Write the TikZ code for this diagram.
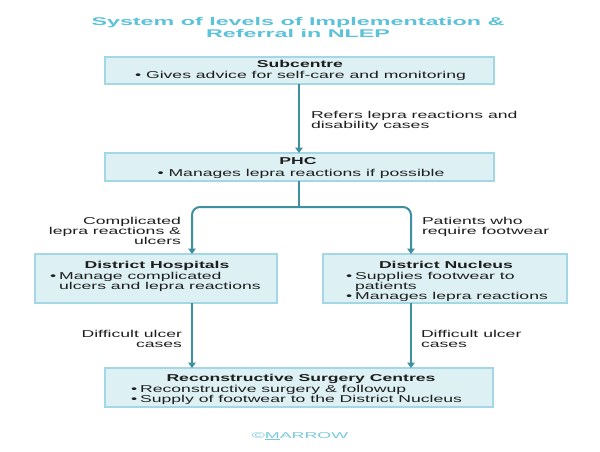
\documentclass[tikz,border=0pt]{standalone}
\usepackage{fontspec}
\setmainfont{Liberation Sans}[FakeStretch=1.76]
\newfontfamily\titlefont{Liberation Sans}[FakeStretch=2.08]
\newfontfamily\footfont{Liberation Sans}[FakeStretch=2.1]
\usetikzlibrary{arrows.meta}
\definecolor{titlecol}{HTML}{5BC2DA}
\definecolor{boxfill}{HTML}{DDF1F5}
\definecolor{boxline}{HTML}{A3D7E3}
\definecolor{arrcol}{HTML}{3E8FA0}
\definecolor{txtcol}{HTML}{1E1E1E}
\definecolor{footcol}{HTML}{78C9DD}
\begin{document}
\begin{tikzpicture}[x=1pt,y=-1pt,
  boxnode/.style={draw=boxline,line width=1.1pt,fill=boxfill,inner sep=0pt,outer sep=0pt,rectangle},
  txtnode/.style={inner sep=0pt,outer sep=0pt,text=txtcol,font=\fontsize{10}{10}\selectfont},
  headnode/.style={txtnode,font=\fontsize{10}{10}\selectfont\bfseries},
  conn/.style={draw=arrcol,line width=2pt},
  arr/.style={conn,-{Triangle[length=5.5pt,width=7.5pt]}}]
\fill[white] (0,0) rectangle (600,451);
\useasboundingbox (0,0) rectangle (600,451);

% title
\node[anchor=base,inner sep=0pt,text=titlecol,font=\titlefont\fontsize{11.2}{12}\selectfont\bfseries] (title) at (298,25)
  {\begin{tabular}[t]{@{}c@{}}System of levels of Implementation \&\\Referral in NLEP\end{tabular}};

% boxes
\node[boxnode,minimum width=389pt,minimum height=27pt] (sc) at (299.5,70.5) {};
\node[boxnode,minimum width=389pt,minimum height=28pt] (phc) at (299.5,167) {};
\node[boxnode,minimum width=242pt,minimum height=49pt] (dh) at (156,278.5) {};
\node[boxnode,minimum width=244pt,minimum height=49pt] (dn) at (445,278.5) {};
\node[boxnode,minimum width=388pt,minimum height=39pt] (rsc) at (299,387.5) {};

% box texts
\node[headnode,anchor=base] (sc-h) at (300,67.5) {Subcentre};
\node[txtnode,anchor=base] (sc-b) at (300.5,78.5) {• Gives advice for self-care and monitoring};
\node[headnode,anchor=base] (phc-h) at (298,164.7) {PHC};
\node[txtnode,anchor=base] (phc-b) at (301,176) {• Manages lepra reactions if possible};

\node[headnode,anchor=base] (dh-h) at (157,268) {District Hospitals};
\node[txtnode,anchor=base west] (dh-b) at (50,279)
  {\begin{tabular}[t]{@{}l@{\hspace{3pt}}l@{}}•&Manage complicated\\&ulcers and lepra reactions\end{tabular}};
\node[headnode,anchor=base] (dn-h) at (446,268) {District Nucleus};
\node[txtnode,anchor=base west] (dn-b) at (346,279)
  {\begin{tabular}[t]{@{}l@{\hspace{3pt}}l@{}}•&Supplies footwear to\\&patients\\•&Manages lepra reactions\end{tabular}};

\node[headnode,anchor=base] (rsc-h) at (301,381.5) {Reconstructive Surgery Centres};
\node[txtnode,anchor=base west] (rsc-b) at (131,392.5)
  {\begin{tabular}[t]{@{}l@{\hspace{3pt}}l@{}}•&Reconstructive surgery \& followup\\•&Supply of footwear to the District Nucleus\end{tabular}};

% connectors
\coordinate (xm) at (299,0);
\coordinate (jn) at (299,207);
\coordinate (xl) at (192,0);
\coordinate (xr) at (411,0);
\draw[arr] (sc.south -| xm) -- (phc.north -| xm);
\draw[conn] (phc.south -| xm) -- (jn);
\draw[arr,rounded corners=8pt] (jn) -| (dh.north -| xl);
\draw[arr,rounded corners=8pt] (jn) -| (dn.north -| xr);
\draw[arr] (dh.south -| xl) -- (rsc.north -| xl);
\draw[arr] (dn.south -| xr) -- (rsc.north -| xr);

% labels
\node[txtnode,anchor=base west] (l1) at (311,118.5)
  {\begin{tabular}[t]{@{}l@{}}Refers lepra reactions and\\disability cases\end{tabular}};
\node[txtnode,anchor=base east] (l2) at (181,224.5)
  {\begin{tabular}[t]{@{}r@{}}Complicated\\lepra reactions \&\\ulcers\end{tabular}};
\node[txtnode,anchor=base west] (l3) at (422,224.5)
  {\begin{tabular}[t]{@{}l@{}}Patients who\\require footwear\end{tabular}};
\node[txtnode,anchor=base east] (l4) at (182,337)
  {\begin{tabular}[t]{@{}r@{}}Difficult ulcer\\cases\end{tabular}};
\node[txtnode,anchor=base west] (l5) at (421,337)
  {\begin{tabular}[t]{@{}l@{}}Difficult ulcer\\cases\end{tabular}};

% footer
\node[anchor=base,inner sep=0pt,text=footcol,font=\footfont\fontsize{8.5}{8.5}\selectfont] (foot) at (300,438) {©\underline{M}ARROW};
\end{tikzpicture}
\end{document}
